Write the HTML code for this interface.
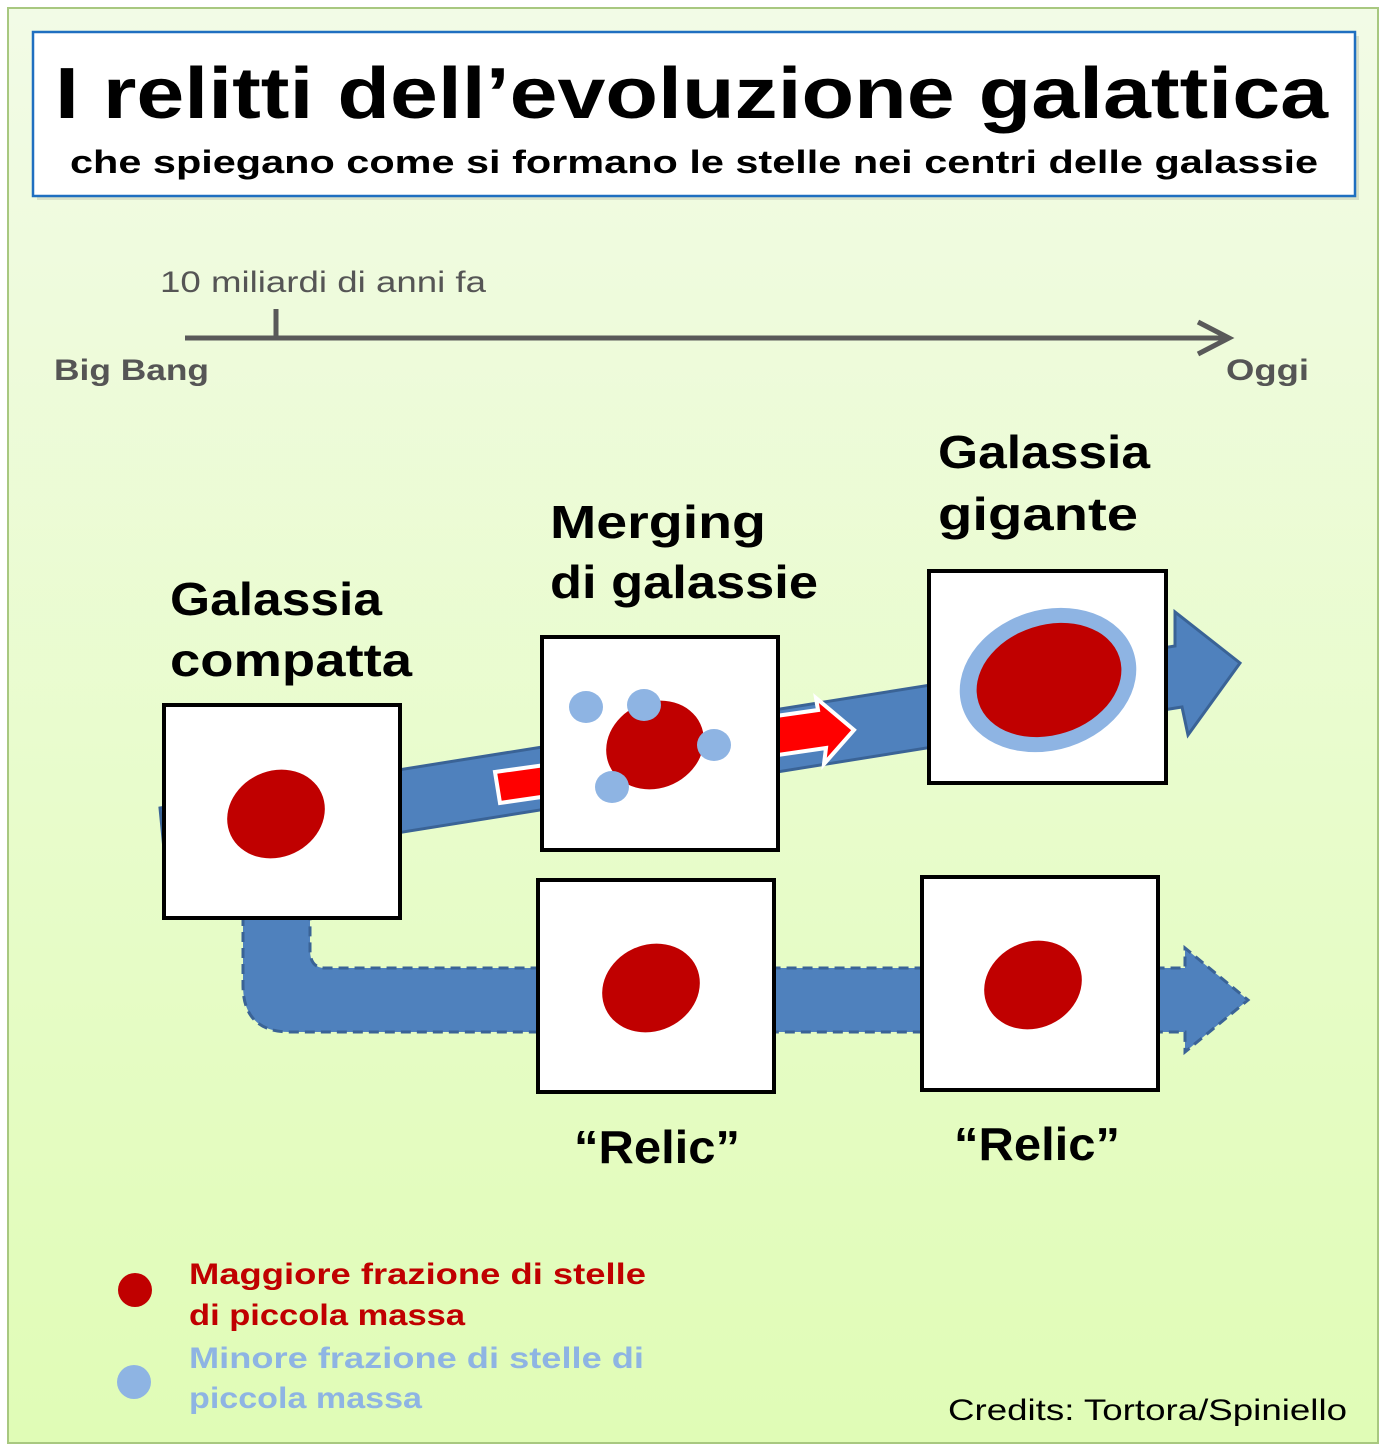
<!DOCTYPE html>
<html><head><meta charset="utf-8"><style>
html,body{margin:0;padding:0;background:#fff}
svg{display:block}
text{font-family:"Liberation Sans",sans-serif}
</style></head><body>
<svg width="1389" height="1455" viewBox="0 0 1389 1455" xmlns="http://www.w3.org/2000/svg">
<defs>
<linearGradient id="bg" x1="0" y1="0" x2="0" y2="1">
<stop offset="0" stop-color="#f2fbe6"/><stop offset="1" stop-color="#e0fcb6"/>
</linearGradient>
</defs>
<rect width="1389" height="1455" fill="#fff"/>
<rect x="8" y="8" width="1370" height="1435" fill="url(#bg)" stroke="#a8c880" stroke-width="2"/>
<rect x="37" y="36" width="1322" height="164" fill="#c8d0b8" opacity="0.6"/>
<rect x="33" y="32" width="1322" height="164" fill="#fff" stroke="#1f6fc0" stroke-width="2.5"/>
<text x="55" y="118" font-size="72" font-weight="bold" textLength="1273" lengthAdjust="spacingAndGlyphs">I relitti dell’evoluzione galattica</text>
<text x="70" y="173" font-size="32" font-weight="bold" textLength="1248" lengthAdjust="spacingAndGlyphs">che spiegano come si formano le stelle nei centri delle galassie</text>

<text x="160" y="292" font-size="30" fill="#555" textLength="326" lengthAdjust="spacingAndGlyphs">10 miliardi di anni fa</text>
<line x1="185" y1="338" x2="1228" y2="338" stroke="#595959" stroke-width="5"/>
<line x1="276" y1="309" x2="276" y2="338" stroke="#595959" stroke-width="5"/>
<polyline points="1198,322 1229,338 1198,354" fill="none" stroke="#595959" stroke-width="5"/>
<text x="54" y="380" font-size="30" font-weight="bold" fill="#555" textLength="155" lengthAdjust="spacingAndGlyphs">Big Bang</text>
<text x="1226" y="380" font-size="30" font-weight="bold" fill="#555" textLength="83" lengthAdjust="spacingAndGlyphs">Oggi</text>

<g font-size="46" font-weight="bold">
<text x="170" y="615" textLength="212" lengthAdjust="spacingAndGlyphs">Galassia</text>
<text x="170" y="676" textLength="242" lengthAdjust="spacingAndGlyphs">compatta</text>
<text x="550" y="538" textLength="216" lengthAdjust="spacingAndGlyphs">Merging</text>
<text x="550" y="598" textLength="268" lengthAdjust="spacingAndGlyphs">di galassie</text>
<text x="938" y="468" textLength="212" lengthAdjust="spacingAndGlyphs">Galassia</text>
<text x="938" y="530" textLength="200" lengthAdjust="spacingAndGlyphs">gigante</text>
<text x="574" y="1163" textLength="166" lengthAdjust="spacingAndGlyphs">“Relic”</text>
<text x="954" y="1160" textLength="166" lengthAdjust="spacingAndGlyphs">“Relic”</text>
</g>

<!-- upper blue arrow -->
<polygon points="160,808 1175,646 1175,612 1240,663 1188,735 1182,707 166,870" fill="#4f81bd" stroke="#3a6396" stroke-width="3"/>
<!-- lower blue arrow -->
<path d="M243,900 L243,985 Q243,1032 290,1032 L1185,1032 L1185,1052 L1248,1000 L1185,948 L1185,968 L325,968 Q310,968 310,950 L310,900 Z" fill="#4f81bd" stroke="#3a6396" stroke-width="3" stroke-dasharray="10,6"/>
<!-- red arrows -->
<polygon points="495,772 545,765 548,796 500,803" fill="#ff0000" stroke="#fff" stroke-width="4"/>
<polygon points="776,716 818,710 816,698 854,730 824,764 826,748 778,755" fill="#ff0000" stroke="#fff" stroke-width="4"/>

<!-- boxes -->
<g fill="#fff" stroke="#000" stroke-width="4">
<rect x="164" y="705" width="236" height="213"/>
<rect x="542" y="637" width="236" height="213"/>
<rect x="929" y="571" width="237" height="212"/>
<rect x="538" y="880" width="236" height="212"/>
<rect x="922" y="877" width="236" height="213"/>
</g>
<g fill="#c00000">
<ellipse cx="276" cy="814" rx="50" ry="43" transform="rotate(-25 276 814)"/>
<ellipse cx="655" cy="745" rx="50" ry="43" transform="rotate(-25 655 745)"/>
<ellipse cx="651" cy="988" rx="50" ry="43" transform="rotate(-25 651 988)"/>
<ellipse cx="1033" cy="985" rx="50" ry="43" transform="rotate(-25 1033 985)"/>
</g>
<g fill="#8eb4e3">
<ellipse cx="586" cy="707" rx="17" ry="16"/>
<ellipse cx="644" cy="705" rx="17" ry="16"/>
<ellipse cx="714" cy="745" rx="17" ry="16"/>
<ellipse cx="612" cy="787" rx="17" ry="16"/>
<ellipse cx="1048" cy="680" rx="90" ry="70" transform="rotate(-18 1048 680)"/>
</g>
<ellipse cx="1049" cy="680" rx="74" ry="55" transform="rotate(-18 1049 680)" fill="#c00000"/>

<!-- legend -->
<circle cx="135" cy="1290" r="17" fill="#c00000"/>
<circle cx="134" cy="1382" r="17" fill="#8eb4e3"/>
<g font-size="30" font-weight="bold">
<text x="189" y="1284" fill="#c00000" textLength="457" lengthAdjust="spacingAndGlyphs">Maggiore frazione di stelle</text>
<text x="189" y="1325" fill="#c00000" textLength="276" lengthAdjust="spacingAndGlyphs">di piccola massa</text>
<text x="189" y="1368" fill="#8eb4e3" textLength="455" lengthAdjust="spacingAndGlyphs">Minore frazione di stelle di</text>
<text x="189" y="1408" fill="#8eb4e3" textLength="233" lengthAdjust="spacingAndGlyphs">piccola massa</text>
</g>
<text x="948" y="1420" font-size="30" textLength="399" lengthAdjust="spacingAndGlyphs">Credits: Tortora/Spiniello</text>
</svg>
</body></html>
